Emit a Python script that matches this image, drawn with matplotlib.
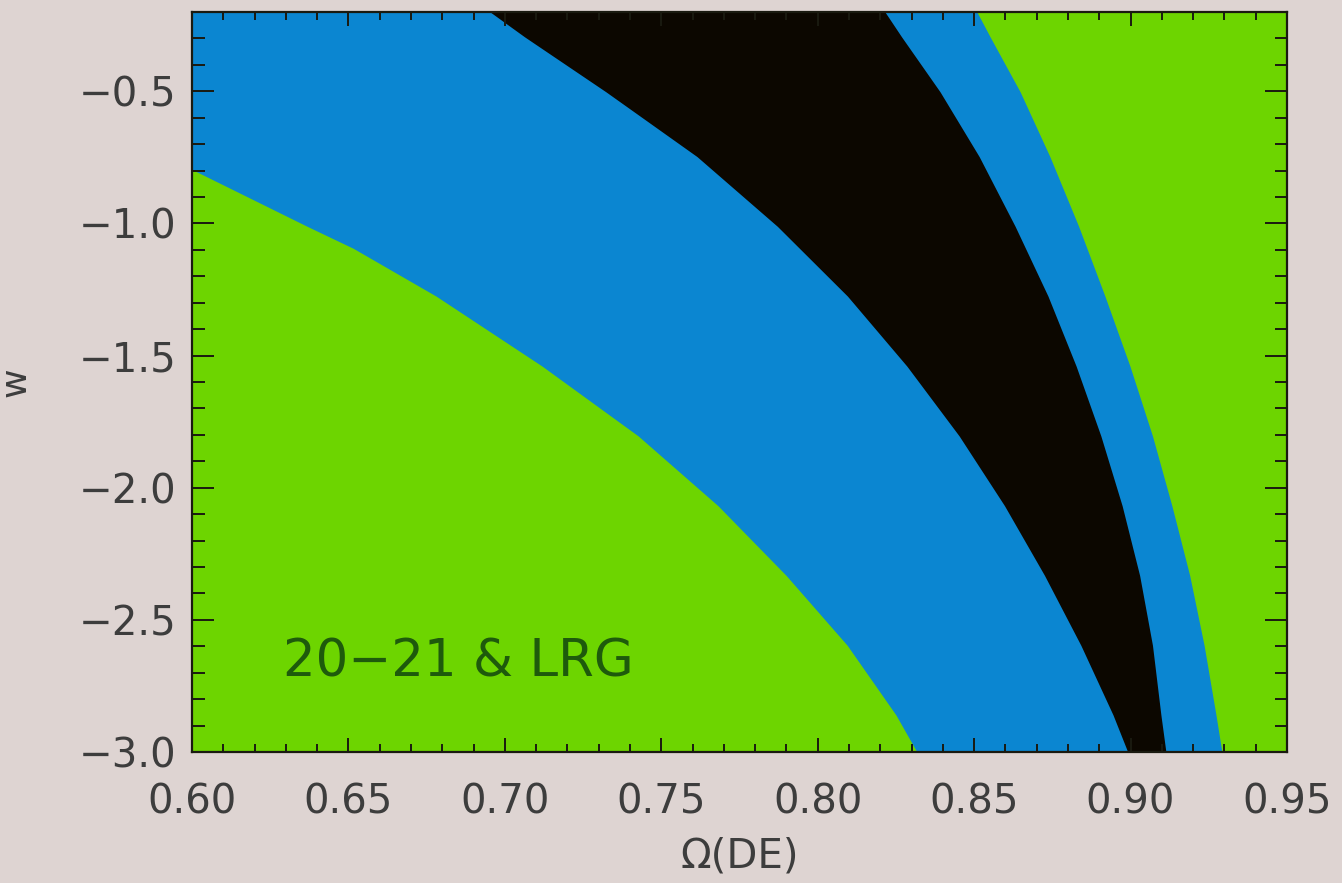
import numpy as np
import matplotlib.pyplot as plt
from matplotlib.ticker import MultipleLocator, FuncFormatter

# Confidence region boundaries in the (Omega_DE, w) plane, read as x at given w
w_grid = [-3.0, -2.86, -2.596, -2.332, -2.068, -1.804, -1.540,
          -1.275, -1.011, -0.747, -0.502, -0.294, -0.2]
inner_left = [0.8991, 0.8944, 0.8841, 0.8725, 0.8597, 0.8452, 0.8285,
              0.8095, 0.7871, 0.7614, 0.7323, 0.7063, 0.6953]
inner_right = [0.9113, 0.9097, 0.9070, 0.9029, 0.8973, 0.8905, 0.8826,
               0.8736, 0.8631, 0.8516, 0.8391, 0.8268, 0.8215]
outer_right = [0.9292, 0.9273, 0.9235, 0.9189, 0.9132, 0.9070, 0.8998,
               0.8918, 0.8834, 0.8742, 0.8647, 0.8551, 0.8509]

# the left outer boundary leaves the frame near w = -0.8
w_left = [-3.0, -2.86, -2.596, -2.332, -2.068, -1.804, -1.540,
          -1.275, -1.094, -1.011, -0.796]
outer_left = [0.8317, 0.8250, 0.8094, 0.7899, 0.7681, 0.7426, 0.7119,
              0.6780, 0.6515, 0.6368, 0.6000]

x_ticks = [0.60, 0.65, 0.70, 0.75, 0.80, 0.85, 0.90, 0.95]
y_ticks = [-3.0, -2.5, -2.0, -1.5, -1.0, -0.5]

BG = "#ded4d2"
BLUE = "#0b86d1"
GREEN = "#6dd500"
BLACK = "#0c0700"
TXT = "#3d3d3d"
FRAME = "#1a1a10"

plt.rcParams["font.family"] = ["DejaVu Sans"]


def minus_fmt(fmt):
    return FuncFormatter(lambda v, pos: (fmt % v).replace("-", "\u2212"))


fig = plt.figure(figsize=(13.42, 8.83), dpi=100, facecolor=BG)
ax = fig.add_axes([0.1431, 0.1484, 0.8159, 0.838])
ax.set_facecolor(BLUE)

xmin, xmax = 0.60, 0.95
ymin, ymax = -3.0, -0.2

ax.fill_betweenx(w_left, xmin - 0.01, outer_left, color=GREEN, lw=0)
ax.fill_betweenx(w_grid, outer_right, xmax + 0.01, color=GREEN, lw=0)
ax.fill_betweenx(w_grid, inner_left, inner_right, color=BLACK, lw=0)

ax.set_xlim(xmin, xmax)
ax.set_ylim(ymin, ymax)

ax.set_xticks(x_ticks)
ax.set_yticks(y_ticks)
ax.xaxis.set_major_formatter(minus_fmt("%.2f"))
ax.yaxis.set_major_formatter(minus_fmt("%.1f"))
ax.xaxis.set_minor_locator(MultipleLocator(0.01))
ax.yaxis.set_minor_locator(MultipleLocator(0.1))

ax.tick_params(axis="both", which="both", direction="in", top=True, right=True,
               color=FRAME, width=1.4, labelcolor=TXT, labelsize=29)
ax.tick_params(axis="x", which="major", length=10, pad=22)
ax.tick_params(axis="x", which="minor", length=5.5)
ax.tick_params(axis="y", which="major", length=16, pad=11)
ax.tick_params(axis="y", which="minor", length=9)

for s in ax.spines.values():
    s.set_color(FRAME)
    s.set_linewidth(1.6)

ax.set_xlabel("Ω(DE)", fontsize=29, color=TXT, labelpad=10)
ax.set_ylabel("w", fontsize=26, color=TXT)
ax.yaxis.set_label_coords(-0.146, 0.5)

ax.text(0.629, -2.713, "20−21 & LRG", fontsize=37, color="#1e5a0c",
        ha="left", va="baseline")

fig.savefig("out.png", dpi=100, facecolor=BG)
